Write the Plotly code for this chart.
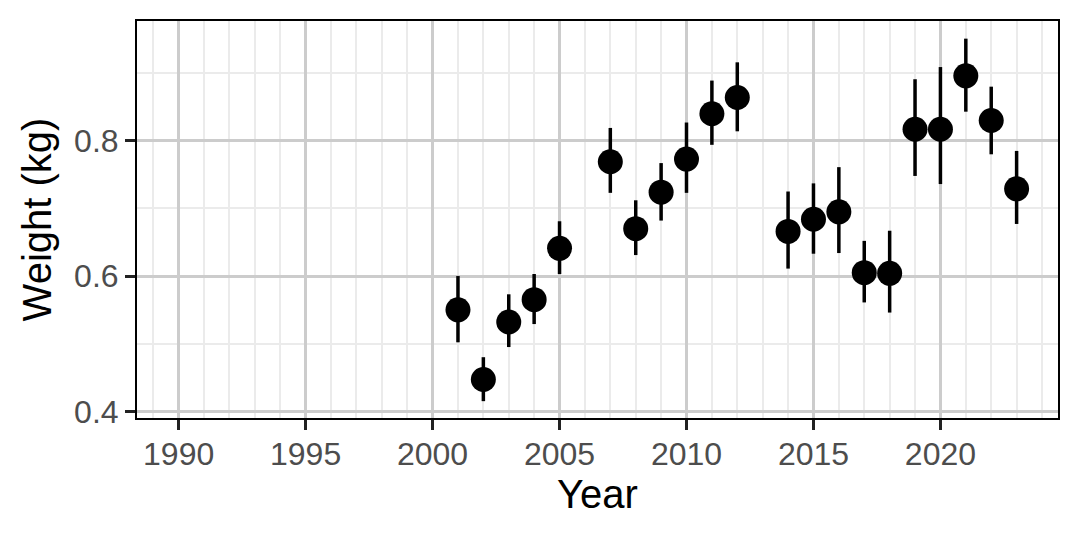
import plotly.graph_objects as go

years = [2001, 2002, 2003, 2004, 2005, 2007, 2008, 2009, 2010, 2011, 2012,
         2014, 2015, 2016, 2017, 2018, 2019, 2020, 2021, 2022, 2023]
weight = [0.550, 0.447, 0.532, 0.565, 0.641, 0.769, 0.670, 0.724, 0.773, 0.840, 0.864,
          0.666, 0.684, 0.695, 0.605, 0.604, 0.817, 0.817, 0.896, 0.830, 0.729]
lower = [0.502, 0.415, 0.495, 0.529, 0.603, 0.723, 0.631, 0.682, 0.723, 0.794, 0.814,
         0.611, 0.633, 0.634, 0.561, 0.546, 0.748, 0.736, 0.843, 0.780, 0.677]
upper = [0.600, 0.480, 0.573, 0.603, 0.681, 0.819, 0.712, 0.767, 0.827, 0.889, 0.916,
         0.725, 0.737, 0.761, 0.652, 0.667, 0.891, 0.909, 0.951, 0.880, 0.785]

x_ticks = [1990, 1995, 2000, 2005, 2010, 2015, 2020]
y_ticks = [0.4, 0.6, 0.8]

err_plus = [u - w for u, w in zip(upper, weight)]
err_minus = [w - l for w, l in zip(weight, lower)]

FONT = "Liberation Sans, Arial, Helvetica, sans-serif"

fig = go.Figure()
fig.add_trace(go.Scatter(
    x=years, y=weight, mode="markers",
    marker=dict(size=25, color="black"),
    error_y=dict(type="data", array=err_plus, arrayminus=err_minus,
                 width=0, thickness=3.5, color="black", symmetric=False),
    showlegend=False,
))

fig.update_layout(
    width=1080, height=540,
    margin=dict(l=137, r=22, t=21, b=122),
    paper_bgcolor="white", plot_bgcolor="white",
    font=dict(family=FONT),
)

fig.update_xaxes(
    range=[1988.36, 2024.63],
    tickvals=x_ticks, ticktext=[str(v) for v in x_ticks],
    showgrid=True, gridcolor="#cccccc", gridwidth=3.2,
    minor=dict(dtick=1, tick0=1990, showgrid=True, gridcolor="#ebebeb", gridwidth=1.6, ticklen=0),
    ticks="outside", ticklen=10, tickwidth=2.5, tickcolor="#222222",
    tickfont=dict(size=32, color="#4d4d4d", family=FONT),
    ticklabelstandoff=-3,
    showline=True, linecolor="black", linewidth=2, mirror=True,
    zeroline=False,
    title=dict(text="Year", font=dict(size=40, color="black", family=FONT), standoff=8),
)
fig.update_yaxes(
    range=[0.3901, 0.9771],
    tickvals=y_ticks, ticktext=["0.4", "0.6", "0.8"],
    showgrid=True, gridcolor="#cccccc", gridwidth=3.2,
    minor=dict(dtick=0.1, tick0=0.4, showgrid=True, gridcolor="#ebebeb", gridwidth=1.6, ticklen=0),
    ticks="outside", ticklen=10, tickwidth=2.5, tickcolor="#222222",
    tickfont=dict(size=32, color="#4d4d4d", family=FONT),
    showline=True, linecolor="black", linewidth=2, mirror=True,
    zeroline=False,
    title=dict(text="Weight (kg)", font=dict(size=40, color="black", family=FONT), standoff=10),
)

fig.write_html("out.html")
